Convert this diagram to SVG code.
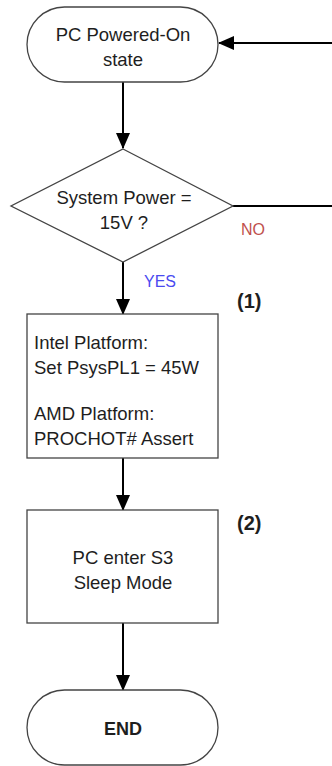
<svg xmlns="http://www.w3.org/2000/svg" width="332" height="766" viewBox="0 0 332 766">
<defs>
<marker id="ah" markerWidth="16" markerHeight="14" refX="15" refY="7" orient="auto" markerUnits="userSpaceOnUse">
<path d="M0,0 L16,7 L0,14 Z" fill="#000"/>
</marker>
<style>
.shape{fill:#fff;stroke:#444;stroke-width:1.3}
.t{font-family:"Liberation Sans",Arial,sans-serif;font-size:18.5px;fill:#1e1e1e}
.c{text-anchor:middle}
.b{font-weight:bold}
.conn{fill:none;stroke:#000;stroke-width:2}
</style>
</defs>
<rect width="332" height="766" fill="#fff"/>
<g id="connectors">
<path class="conn" d="M123,82 V148" marker-end="url(#ah)"/>
<path class="conn" d="M233,206 H332"/>
<path class="conn" d="M332,43 H219" marker-end="url(#ah)"/>
<path class="conn" d="M123,262 V314" marker-end="url(#ah)"/>
<path class="conn" d="M123,458 V510" marker-end="url(#ah)"/>
<path class="conn" d="M123,623 V690" marker-end="url(#ah)"/>
<text class="t" x="241" y="235" style="fill:#c0504d;font-size:16px">NO</text>
<text class="t" x="144" y="287" style="fill:#4a4af0;font-size:16px">YES</text>
</g>
<g id="start">
<rect class="shape" x="27" y="7" width="191" height="75" rx="37.5"/>
<text class="t c" x="123" y="41">PC Powered-On</text>
<text class="t c" x="123" y="66">state</text>
</g>
<g id="decision">
<polygon class="shape" points="123,149 233,206 123,262 11,206"/>
<text class="t c" x="124" y="204">System Power =</text>
<text class="t c" x="124" y="229">15V ?</text>
</g>
<g id="step1">
<rect class="shape" x="27" y="314" width="191" height="144"/>
<text class="t" x="34" y="349">Intel Platform:</text>
<text class="t" x="34" y="374">Set PsysPL1 = 45W</text>
<text class="t" x="34" y="420">AMD Platform:</text>
<text class="t" x="34" y="445">PROCHOT# Assert</text>
<text class="t b" x="237" y="308" style="font-size:20px">(1)</text>
</g>
<g id="step2">
<rect class="shape" x="27" y="510" width="191" height="113"/>
<text class="t c" x="123" y="564">PC enter S3</text>
<text class="t c" x="123" y="589">Sleep Mode</text>
<text class="t b" x="237" y="530" style="font-size:20px">(2)</text>
</g>
<g id="end">
<rect class="shape" x="27" y="690" width="191" height="75" rx="37.5"/>
<text class="t c b" x="123" y="735" style="font-size:18px">END</text>
</g>
</svg>
